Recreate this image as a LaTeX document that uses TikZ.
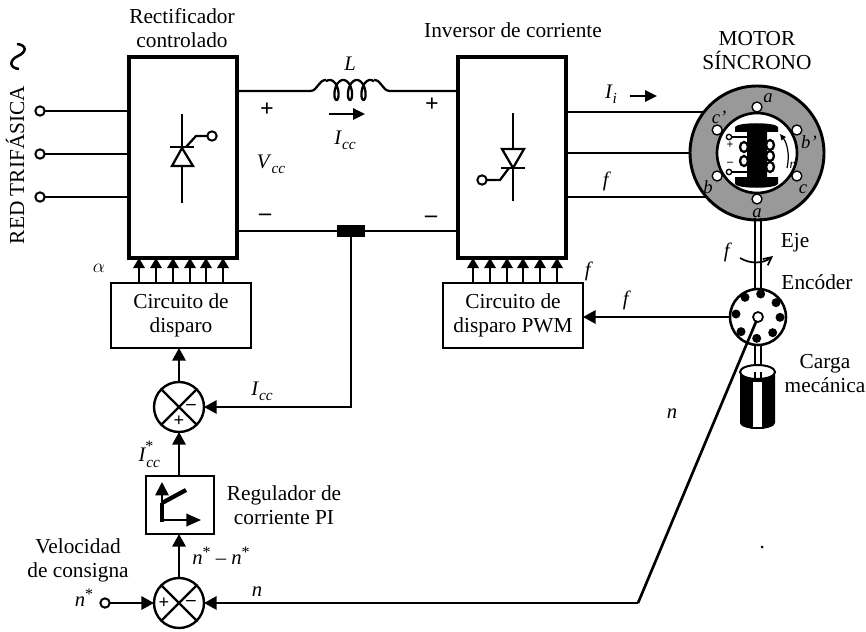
\documentclass[tikz,border=0pt]{standalone}
\usepackage{fontspec}
\setmainfont{Liberation Serif}
\usetikzlibrary{arrows.meta,calc}
\newcommand{\varsub}[2]{\textit{#1}\raisebox{-4pt}{\fontsize{11.5}{11.5}\selectfont\textit{#2}}}
\newcommand{\varsup}[1]{\textit{#1}\raisebox{5pt}{\fontsize{12}{12}\selectfont *}}
\tikzset{
  x=0.75pt,y=-0.75pt,
  txt/.style={font=\fontsize{16}{18}\selectfont,align=center,inner sep=0pt,outer sep=0pt},
  var/.style={font=\fontsize{15.5}{17}\selectfont,inner sep=0pt,outer sep=0pt},
  sgn/.style={font=\bfseries\fontsize{18}{18}\selectfont,inner sep=0pt,outer sep=0pt},
  sgnS/.style={font=\bfseries\fontsize{14}{14}\selectfont,inner sep=0pt,outer sep=0pt},
  rotlab/.style={font=\itshape\fontsize{14}{14}\selectfont,inner sep=0pt,outer sep=0pt},
  blockbox/.style={draw,line width=2.6pt,fill=white,inner sep=0pt,outer sep=0pt,align=center,font=\fontsize{16}{17.5}\selectfont},
  ctrlbox/.style={blockbox,line width=2pt},
  wire/.style={line width=1.7pt},
  arr/.style={line width=1.7pt,-{Triangle[length=9.5pt,width=10pt]}},
  gatearr/.style={line width=1.7pt,-{Triangle[length=7.5pt,width=8.5pt]}},
  sumnode/.style={circle,draw,line width=1.8pt,minimum size=37.5pt,inner sep=0pt,outer sep=0pt},
  term/.style={circle,draw,line width=1.5pt,fill=white,minimum size=7pt,inner sep=0pt,outer sep=0pt},
}
\begin{document}
\begin{tikzpicture}
\useasboundingbox (0,0) rectangle (866,631);
% blocks
\node[blockbox,minimum width=81pt,minimum height=150.75pt] (rect) at (183,157.5) {};
\node[blockbox,minimum width=81pt,minimum height=150.75pt] (inv) at (512,157.5) {};
\node[ctrlbox,minimum width=105pt,minimum height=48.75pt] (fireA) at (181,315.5) {Circuito de\\disparo};
\node[ctrlbox,minimum width=105pt,minimum height=48.75pt] (fireB) at (513,315.5) {Circuito de\\disparo PWM};
\node[ctrlbox,minimum width=51pt,minimum height=43.5pt] (pi) at (180,505) {};
\node[sumnode] (sumA) at (179,407) {};
\node[sumnode] (sumB) at (179,603) {};
\draw[wire] (sumA.45) -- (sumA.225) (sumA.135) -- (sumA.315);
\draw[wire] (sumB.45) -- (sumB.225) (sumB.135) -- (sumB.315);
\node[sgnS] at (179,421) {+};
\node[sgnS] at (191,407) {–};
\node[sgnS] at (164,603) {+};
\node[sgnS] at (191,603) {–};
% motor
\node[circle,draw,line width=2.2pt,fill=black!40,minimum size=100.5pt,inner sep=0pt,outer sep=0pt] (motor) at (757,153) {};
\node[circle,draw,line width=2pt,fill=white,minimum size=60pt,inner sep=0pt,outer sep=0pt] (stator) at (757,153) {};
\foreach \a in {90,150,210,270,330,30}
  \node[term,line width=1pt,minimum size=7.5pt] at ($(motor)+(\a:46 and -46)$) {};
\fill (735,132) -- (735,127) .. controls (738,122) and (775,122) .. (778,127) -- (778,132) -- (767,132) -- (767,177) -- (778,177) -- (778,184) .. controls (775,189) and (738,189) .. (735,184) -- (735,177) -- (747,177) -- (747,132) -- cycle;
\foreach \y in {145,156,167} \draw[line width=1.7pt] (770,\y) ellipse (4 and 5);
\foreach \y in {147,161} \draw[line width=1.7pt] (744,\y) ellipse (4 and 5);
\node[term,line width=1pt,minimum size=4pt] (tp) at (729,137) {};
\node[term,line width=1pt,minimum size=4pt] (tm) at (729,172) {};
\draw[line width=1pt] (tp) -- (747,137) (tm) -- (747,172);
\node[font=\bfseries\fontsize{9}{9}\selectfont,inner sep=0pt] at (730,145) {+};
\node[font=\bfseries\fontsize{9}{9}\selectfont,inner sep=0pt] at (730,164) {–};
\draw[line width=0.9pt,{Triangle[length=4.5pt,width=4pt]}-] (780,134) .. controls (787,143) and (790,155) .. (787,168);
\node[rotlab,font=\itshape\fontsize{10}{10}\selectfont] at (793,165) {n};
\node[rotlab] at (768,98) {a};
\node[rotlab] at (809,142) {b'};
\node[rotlab] at (803,189) {c};
\node[rotlab] at (757,213) {a};
\node[rotlab] at (708,187) {b};
\node[rotlab] at (719,117) {c'};
% encoder
\node[circle,draw,line width=1.9pt,fill=white,minimum size=42pt,inner sep=0pt,outer sep=0pt] (enc) at (758,317) {};
\foreach \p/\q in {302/222,255/232,348/248,228/282,360/292,243/335,338/338,290/355}
  \fill ({660+\p/3},{220+\q/3}) circle (4.5);
\node[term,minimum size=7.5pt,line width=1.3pt] (hub) at (758,317) {};
% shafts
\draw[line width=1.4pt] (755,218) -- (755,289) (761,218) -- (761,289);
\draw[line width=1.4pt] (755,345) -- (755,381) (761,345) -- (761,381);
% load
\fill (740,372) -- (740,423) arc[start angle=180,end angle=360,x radius=17.5,y radius=-6] -- (775,372) -- cycle;
\draw[line width=1.5pt,fill=white] (757.5,372) ellipse (17.5 and 7);
\draw[line width=1.4pt,fill=white] (752,381) rectangle (763,428);
\draw[line width=1.4pt] (755,372) -- (755,381) (761,372) -- (761,381);
% thyristors
\coordinate (tA) at (182,114); \coordinate (tB) at (182,203);
\draw[line width=1.6pt] (tA) -- (tB);
\draw[line width=1.7pt,fill=white] (172,166) -- (193,166) -- (182,148) -- cycle;
\draw[line width=1.9pt] (170,147) -- (194,147);
\node[term] (gA) at (212,136) {};
\draw[line width=1.7pt] (186,147) -- (196,136) -- (gA);
\coordinate (tC) at (513,113); \coordinate (tD) at (513,201);
\draw[line width=1.6pt] (tC) -- (tD);
\draw[line width=1.7pt,fill=white] (502,149) -- (524,149) -- (513,168) -- cycle;
\draw[line width=1.9pt] (501,168) -- (525,168);
\node[term] (gB) at (482,180) {};
\draw[line width=1.7pt] (509,168) -- (500,180) -- (gB);
% PI icon
\coordinate (piO) at (162,520);
\draw[line width=3.6pt] (162,522) -- (162,503);
\draw[line width=3.2pt] (162,503) -- (186,490);
\draw[line width=1.3pt,-{Triangle[length=10pt,width=10pt]}] (162,505) -- (162,482);
\draw[line width=1.3pt,-{Triangle[length=11pt,width=9.5pt]}] (piO) -- (201,520);
% DC link
\coordinate (lA) at (310,91); \coordinate (lB) at (390,91);
\draw[wire] (rect.east |- lA) -- (lA) .. controls (318,91) and (318,80) .. (326,80);
\draw[wire] plot[domain=-30:1110,samples=130,variable=\t] ({350+0.0375*(\t-540)+5*sin(\t)},{90-10*cos(\t)});
\draw[wire] (374,80) .. controls (382,80) and (382,91) .. (lB) -- (inv.west |- lB);
\node[fill=black,minimum width=21pt,minimum height=8.5pt,inner sep=0pt,outer sep=0pt] (shunt) at (351,231) {};
\draw[wire] (rect.east |- shunt) -- (shunt) -- (inv.west |- shunt);
\draw[arr] (shunt) |- (sumA.east);
\draw[line width=1.7pt,-{Triangle[length=9pt,width=8.5pt]}] (329,114) -- (365,114);
% gate arrows
\foreach \x in {139,156,173,190,206,223}
  \draw[gatearr] (\x,0 |- fireA.north) -- (\x,0 |- rect.south);
\foreach \x in {473,490,507,523,540,557}
  \draw[gatearr] (\x,0 |- fireB.north) -- (\x,0 |- inv.south);
% control chain
\draw[arr] (sumA.north) -- (fireA.south -| sumA);
\draw[arr] (pi.north -| sumA) -- (sumA.south);
\draw[arr] (sumB.north) -- (pi.south -| sumB);
\node[term] (nin) at (105,603) {};
\draw[arr] (nin) -- (sumB.west);
\coordinate (kn) at (638,603);
\draw[line width=2pt] (hub) -- (kn);
\draw[arr] (kn) -- (sumB.east);
\draw[arr] (enc.west) -- (fireB.east |- enc);
% three phase input
\node[term] (ra) at (40,111) {};
\node[term] (rb) at (40,154) {};
\node[term] (rc) at (40,197) {};
\draw[wire] (ra) -- (rect.west |- ra) (rb) -- (rect.west |- rb) (rc) -- (rect.west |- rc);
% motor feed
\draw[wire] (inv.east |- motor.142) -- (motor.142);
\draw[wire] (inv.east |- motor.west) -- (motor.west);
\draw[wire] (inv.east |- motor.221) -- (motor.221);
\draw[line width=1.7pt,-{Triangle[length=9pt,width=8.5pt]}] (630,96) -- (657,96);
% labels
\node[txt] at (182,28) {Rectificador\\controlado};
\node[txt] at (513,30) {Inversor de corriente};
\node[txt] at (757,51) {MOTOR\\SÍNCRONO};
\node[txt,rotate=90] at (15,165) {RED TRIFÁSICA};
\draw[line width=1.9pt] (17,44) .. controls (27,45) and (27,52) .. (18,56) .. controls (9,60) and (9,68) .. (19,69);
\node[var] at (350,64) {\textit{L}};
\node[sgn] at (267,110) {+};
\node[sgn] at (265,217) {–};
\node[sgn] at (432,105) {+};
\node[sgn] at (431,219) {–};
\node[var] at (271,164) {\varsub{V}{cc}};
\node[var] at (345,140) {\varsub{I}{cc}};
\node[var] at (611,94) {\varsub{I}{i}};
\node[var] at (607,181) {\textit{f}};
\node[var] at (99,268) {$\alpha$};
\node[var] at (589,271) {\textit{f}};
\node[var] at (627,300) {\textit{f}};
\node[var] at (262,391) {\varsub{I}{cc}};
\node[var] at (146,454) {\textit{I}\raisebox{-4pt}{\fontsize{11.5}{11.5}\selectfont\textit{cc}}\hspace{-11pt}\raisebox{8pt}{\fontsize{12}{12}\selectfont *}\hspace{4pt}};
\node[txt] at (284,505) {Regulador de\\corriente PI};
\node[txt] at (78,560) {Velocidad\\de consigna};
\node[var] at (84,598) {\varsup{n}};
\node[var] at (221,556) {\varsup{n} – \varsup{n}};
\node[var] at (257,592) {\textit{n}};
\node[var] at (672,414) {\textit{n}};
\node[txt] at (795,243) {Eje};
\node[txt] at (817,282) {Encóder};
\node[txt] at (825,373.5) {Carga\\mecánica};
\node[var] at (728,252) {\textit{f}};
\draw[line width=1.3pt,-{Straight Barb[length=6pt,width=6pt]}] (740,258) .. controls (750,264) and (763,264) .. (773,256);
\fill (762,547) circle (1.5);
\end{tikzpicture}
\end{document}
